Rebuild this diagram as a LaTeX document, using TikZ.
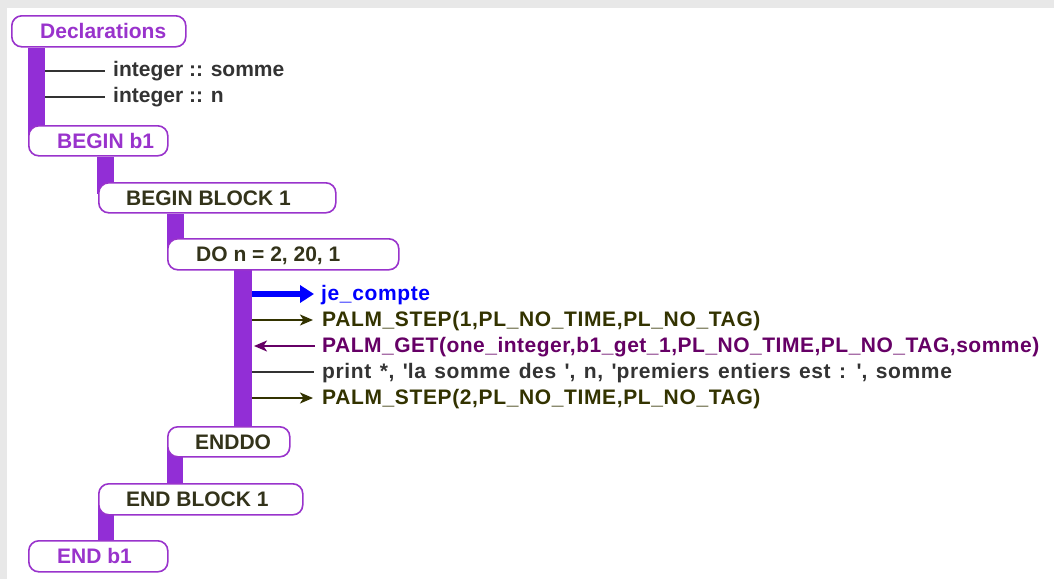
\documentclass[tikz,border=0pt]{standalone}
\usepackage{fontspec}
\setmainfont{Liberation Sans}
\usetikzlibrary{arrows.meta}
\pgfdeclarelayer{background}
\pgfsetlayers{background,main}

\definecolor{frame}{HTML}{E8E8E8}
\definecolor{blockviolet}{HTML}{922ED6}
\definecolor{kwviolet}{HTML}{9933CC}
\definecolor{darkolive}{HTML}{33331A}
\definecolor{codegray}{HTML}{333333}
\definecolor{stepolive}{HTML}{333300}
\definecolor{getplum}{HTML}{660066}
\definecolor{callblue}{HTML}{0000FF}

\begin{document}
\begin{tikzpicture}[x=1pt,y=-1pt,
  txt/.style={font=\fontsize{21}{24}\selectfont\bfseries, inner sep=0pt, anchor=base west},
  codetxt/.style={font=\fontsize{21}{24}\selectfont\bfseries\addfontfeature{LetterSpace=3}, inner sep=0pt, anchor=base west},
  gettxt/.style={font=\fontsize{21}{24}\selectfont\bfseries\addfontfeature{LetterSpace=2.4}, inner sep=0pt, anchor=base west},
  kwtxt/.style={txt, text=kwviolet},
  dktxt/.style={txt, text=darkolive},
  blockbox/.style={draw=kwviolet, line width=1.6pt, fill=white, rounded corners=10pt,
    inner sep=0pt, anchor=north west},
  bar/.style={fill=blockviolet, draw=none},
  plain/.style={draw=codegray, line width=1.8pt},
  steplink/.style={draw=stepolive, line width=1.8pt,
    -{Stealth[length=13pt 0, width=11pt 0, inset=3.5pt]}},
  getlink/.style={draw=getplum, line width=1.8pt,
    {Stealth[length=13pt 0, width=11pt 0, inset=3.5pt]}-},
  calllink/.style={draw=callblue, line width=6pt,
    -{Triangle[length=14pt 0, width=17pt 0]}},
]
\useasboundingbox (0,0) rectangle (1054,579);

% block boxes
\node[blockbox, minimum width=174pt, minimum height=31pt] (decl)  at (11,15)  {};
\node[blockbox, minimum width=139pt, minimum height=30pt] (b1)    at (28,125) {};
\node[blockbox, minimum width=237pt, minimum height=30pt] (blk)   at (98,182) {};
\node[blockbox, minimum width=231pt, minimum height=31pt] (do)    at (167,238) {};
\node[blockbox, minimum width=122pt, minimum height=30pt] (enddo) at (167,426) {};
\node[blockbox, minimum width=204pt, minimum height=31pt] (eblk)  at (98,483) {};
\node[blockbox, minimum width=139pt, minimum height=31pt] (eb1)   at (28,540) {};

% box labels
\node[kwtxt] (declT)  at ([xshift=29pt,yshift=-7pt]decl.west)  {Declarations};
\node[kwtxt] (b1T)    at ([xshift=29pt,yshift=-7.5pt]b1.west)  {BEGIN b1};
\node[dktxt] (blkT)   at ([xshift=28pt,yshift=-7.5pt]blk.west) {BEGIN BLOCK 1};
\node[dktxt] (doT)    at ([xshift=29pt,yshift=-7.5pt]do.west)  {DO n = 2, 20, 1};
\node[dktxt] (enddoT) at ([xshift=28pt,yshift=-7.5pt]enddo.west) {ENDDO};
\node[dktxt] (eblkT)  at ([xshift=28pt,yshift=-7.5pt]eblk.west) {END BLOCK 1};
\node[kwtxt] (eb1T)   at ([xshift=29pt,yshift=-7.5pt]eb1.west) {END b1};

% frame, canvas and nesting bars behind the boxes
\begin{pgfonlayer}{background}
  \fill[frame] (0,0) rectangle (1054,579);
  \fill[white] (7,8) rectangle (1054,579);
  \fill[bar] (b1.west |- decl.south) rectangle ([xshift=17pt,yshift=-12pt]b1.north west);
  \fill[bar] ([xshift=-1pt]blk.west |- b1.south) rectangle ([xshift=16pt,yshift=-12pt]blk.north west);
  \fill[bar] (do.west |- blk.south) rectangle ([xshift=17pt,yshift=-12pt]do.north west);
  \fill[bar] ([xshift=67pt,yshift=1pt]do.south west) rectangle ([xshift=85pt,yshift=-1pt]enddo.north west);
  \fill[bar] ([yshift=12pt]enddo.south west) rectangle ([xshift=16pt]enddo.west |- eblk.north);
  \fill[bar] ([yshift=12pt]eblk.south west) rectangle ([xshift=16pt]eblk.west |- eb1.north);
\end{pgfonlayer}

% declarations
\coordinate (d1) at (45,71);
\coordinate (d2) at (45,97);
\node[txt, text=codegray] (dsomme) at (113,76)  {integer :: somme};
\node[txt, text=codegray] (dn)     at (113,102) {integer :: n};
\draw[plain] (d1) -- (d1 -| 105,0);
\draw[plain] (d2) -- (d2 -| 105,0);

% loop body
\coordinate (s1) at (252,294);
\coordinate (s2) at (252,320);
\coordinate (s3) at (252,346);
\coordinate (s4) at (252,372);
\coordinate (s5) at (252,398);
\node[codetxt, text=callblue]  (call)  at (321,300) {je\_compte};
\node[codetxt, text=stepolive] (step1) at (322,326) {PALM\_STEP(1,PL\_NO\_TIME,PL\_NO\_TAG)};
\node[gettxt, text=getplum]    (get)   at (322,352) {PALM\_GET(one\_integer,b1\_get\_1,PL\_NO\_TIME,PL\_NO\_TAG,somme)};
\node[codetxt, text=codegray]  (prt)   at (322,378) {\spaceskip=8.4pt\relax print *, \textquotesingle la somme des \textquotesingle, n, \textquotesingle premiers entiers est : \textquotesingle, somme};
\node[codetxt, text=stepolive] (step2) at (322,404) {PALM\_STEP(2,PL\_NO\_TIME,PL\_NO\_TAG)};
\draw[calllink] (s1) -- (s1 -| 314,0);
\draw[steplink] (s2) -- (s2 -| 313,0);
\draw[getlink]  ([xshift=2pt]s3) -- (s3 -| 315,0);
\draw[plain]    (s4) -- (s4 -| 314,0);
\draw[steplink] (s5) -- (s5 -| 313,0);
\end{tikzpicture}
\end{document}
